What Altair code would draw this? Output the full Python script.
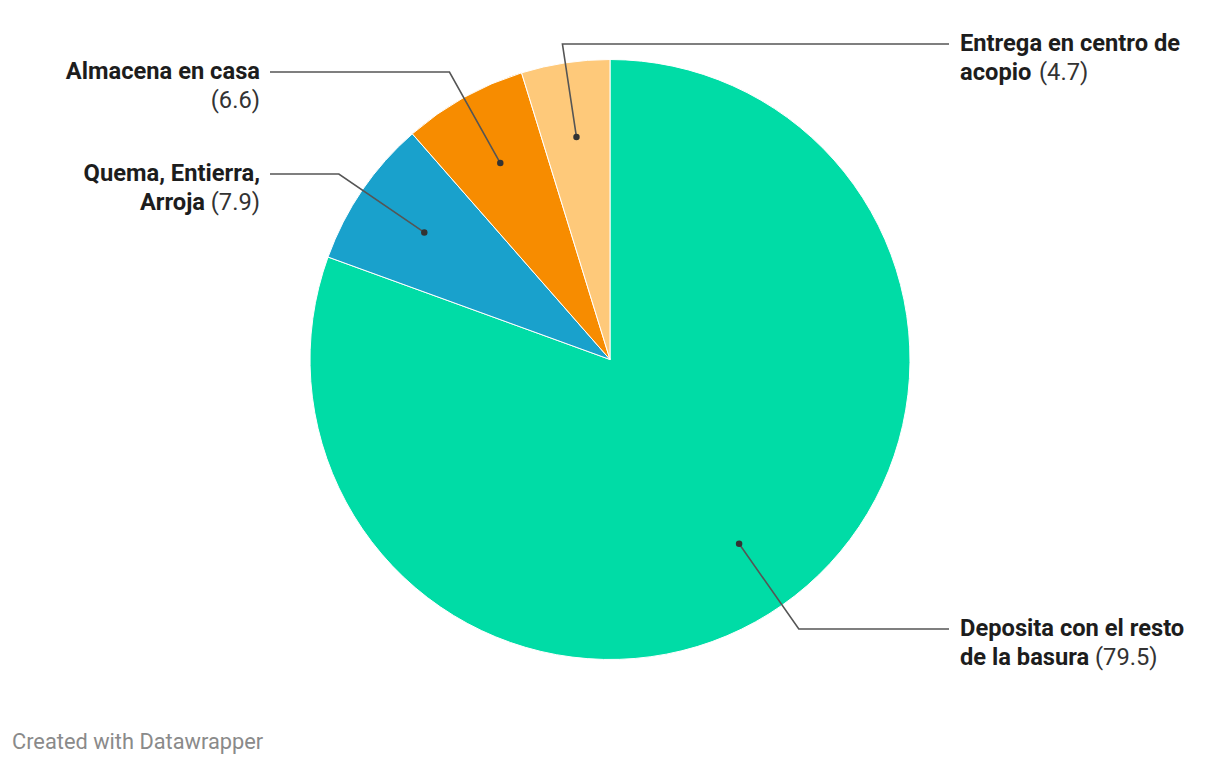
import math
import altair as alt
import pandas as pd

# ---- data ----
categories = ["Deposita con el resto de la basura", "Quema, Entierra, Arroja",
              "Almacena en casa", "Entrega en centro de acopio"]
values = [79.5, 7.9, 6.6, 4.7]
colors = ["#00dca6", "#19a1cc", "#f78c00", "#fec97a"]
line1 = ["Deposita con el resto", "Quema, Entierra,", "Almacena en casa", "Entrega en centro de"]
line2_bold = ["de la basura", "Arroja", "", "acopio"]

# ---- layout ----
CX, CY, R = 610, 359.5, 300
DOT_FRAC = 0.75
label_y = [629, 174, 72, 44]
side = ["right", "left", "left", "right"]
LEFT_END, RIGHT_END = 270, 949
LEFT_TEXT, RIGHT_TEXT = 260, 960
LINE_GAP = 29
FS = 23.7
# x where the regular number part sits (start for right-side, end for left-side)
num_x = [1095, 260, 260, 1039]
bold2_x = [960, 205, 205, 960]

total = sum(values)
pie = pd.DataFrame({"cat": categories, "value": values, "order": range(len(values))})

lines, dots, texts = [], [], []
start = 0.0
for i, (c, v) in enumerate(zip(categories, values)):
    mid = (start + v / 2) / total * 2 * math.pi
    start += v
    dx, dy = math.sin(mid), -math.cos(mid)
    px, py = CX + DOT_FRAC * R * dx, CY + DOT_FRAC * R * dy
    r_e = (CY - label_y[i]) / math.cos(mid)
    ex, ey = CX + r_e * dx, label_y[i]
    endx = RIGHT_END if side[i] == "right" else LEFT_END
    for k, (x, y) in enumerate([(px, py), (ex, ey), (endx, ey)]):
        lines.append({"cat": c, "step": k, "x": x, "y": y})
    dots.append({"cat": c, "x": px, "y": py})
    al = "left" if side[i] == "right" else "right"
    tx = RIGHT_TEXT if side[i] == "right" else LEFT_TEXT
    texts.append({"t": line1[i], "x": tx, "y": label_y[i], "al": al, "wt": "bold"})
    if line2_bold[i]:
        texts.append({"t": line2_bold[i], "x": bold2_x[i], "y": label_y[i] + LINE_GAP,
                      "al": al, "wt": "bold"})
    texts.append({"t": f"({v})", "x": num_x[i], "y": label_y[i] + LINE_GAP,
                  "al": al, "wt": "normal"})

lines = pd.DataFrame(lines)
dots = pd.DataFrame(dots)
texts = pd.DataFrame(texts)

W, H = 1204, 750
xs = alt.Scale(domain=[8, 8 + W])
ys = alt.Scale(domain=[8, 8 + H], reverse=True)

arc = alt.Chart(pie).mark_arc(outerRadius=R, stroke="white", strokeWidth=1).encode(
    theta=alt.Theta("value:Q", stack=True),
    order=alt.Order("order:Q"),
    color=alt.Color("cat:N", scale=alt.Scale(domain=categories, range=colors), legend=None),
    x=alt.value(CX - 8), y=alt.value(CY - 8),
)

leader = alt.Chart(lines).mark_line(color="#555555", strokeWidth=1.6).encode(
    x=alt.X("x:Q", scale=xs, axis=None),
    y=alt.Y("y:Q", scale=ys, axis=None),
    detail="cat:N",
    order="step:Q",
)

dot = alt.Chart(dots).mark_circle(color="#333333", opacity=1, size=42).encode(
    x=alt.X("x:Q", scale=xs, axis=None),
    y=alt.Y("y:Q", scale=ys, axis=None),
)

layers = [arc, leader, dot]
for al in ["left", "right"]:
    for wt in ["bold", "normal"]:
        sub = texts[(texts["al"] == al) & (texts["wt"] == wt)]
        if len(sub) == 0:
            continue
        layers.append(
            alt.Chart(sub).mark_text(align=al, baseline="middle", font="Roboto",
                                     fontSize=FS, fontWeight=wt,
                                     color="#1d1d1d" if wt == "bold" else "#333333").encode(
                x=alt.X("x:Q", scale=xs, axis=None),
                y=alt.Y("y:Q", scale=ys, axis=None),
                text="t:N",
            )
        )

footer = alt.Chart(pd.DataFrame({"t": ["Created with Datawrapper"], "x": [12], "y": [742]})).mark_text(
    align="left", baseline="middle", font="Roboto", fontSize=21.8, color="#8a8a8a"
).encode(
    x=alt.X("x:Q", scale=xs, axis=None),
    y=alt.Y("y:Q", scale=ys, axis=None),
    text="t:N",
)
layers.append(footer)

chart = alt.layer(*layers).properties(
    width=W, height=H, autosize=alt.AutoSizeParams(type="none"), padding=0,
    background="white",
).configure_view(stroke=None)

chart.save("out.html", embed_options={"renderer": "svg", "actions": False})
